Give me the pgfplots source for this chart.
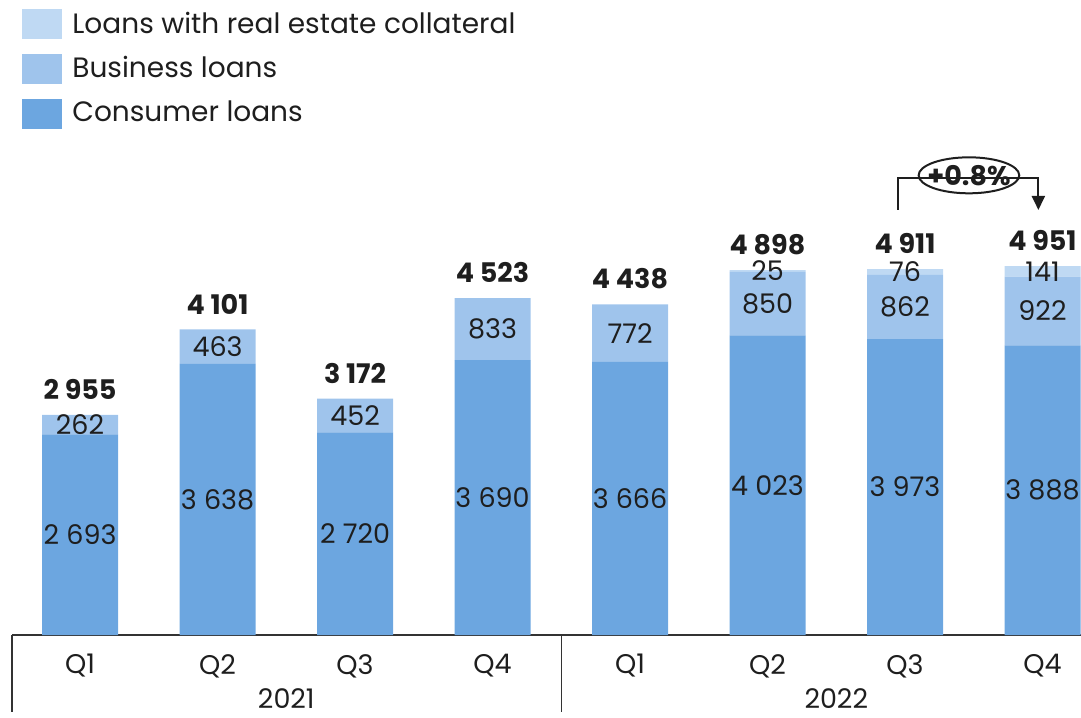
\documentclass[border=0pt]{standalone}
\usepackage{fontspec}
\setmainfont{Poppins}
\usepackage{pgfplots}
\pgfplotsset{compat=1.18}
\usetikzlibrary{shapes.geometric,arrows.meta}

\definecolor{consumer}{HTML}{6CA6E0}
\definecolor{business}{HTML}{9FC4EC}
\definecolor{realest}{HTML}{BFD9F3}
\definecolor{txt}{HTML}{1E1E1E}
\definecolor{axisc}{HTML}{333333}

\pgfplotsset{
  mid label/.style={
    nodes near coords={\pgfmathfloatifflags{\pgfplotspointmeta}{0}{}{\pgfmathprintnumber{\pgfplotspointmeta}}},
    every node near coord/.append style={anchor=center, text=txt, inner sep=0pt}
  },
  swatch/.style={legend image code/.code={\fill[##1] (0pt,-7.5pt) rectangle (20pt,7.5pt);}},
  frame/.style={
    scale only axis,
    width=534.5pt, height=317.5pt,
    xmin=-0.495, xmax=7.28,
    ymin=0, ymax=8523,
    bar width=38pt,
    clip=false,
    /pgf/number format/1000 sep={\ },
    /pgf/number format/assume math mode=true,
  },
}

\begin{document}
\fontsize{13.5}{16}\selectfont
\begin{tikzpicture}
\begin{axis}[
    frame,
    ybar stacked,
    axis y line=none,
    axis x line*=bottom,
    axis line style={-, line width=0.9pt, color=axisc},
    xtick={0,...,7},
    xticklabels={Q1,Q2,Q3,Q4,Q1,Q2,Q3,Q4},
    major tick length=0pt,
    xticklabel style={text=txt, yshift=-5pt},
    reverse legend,
    legend cell align=left,
    legend style={at={(0,1)}, anchor=north west, xshift=5pt, yshift=-4.5pt,
      draw=none, fill=none, inner sep=0pt, row sep=7.3pt, column sep=5pt,
      font=\fontsize{14}{16}\selectfont,
      nodes={inner sep=0pt, text=txt}},
]
% consumer loans
\addplot[fill=consumer, draw=none, mid label, swatch] coordinates {
  (0,2693) (1,3638) (2,2720) (3,3690) (4,3666) (5,4023) (6,3973) (7,3888)};
\addlegendentry{Consumer loans}
% business loans
\addplot[fill=business, draw=none, mid label, swatch] coordinates {
  (0,262) (1,463) (2,452) (3,833) (4,772) (5,850) (6,862) (7,922)};
\addlegendentry{Business loans}
% loans with real estate collateral
\addplot[fill=realest, draw=none, mid label, swatch] coordinates {
  (0,0) (1,0) (2,0) (3,0) (4,0) (5,25) (6,76) (7,141)};
\addlegendentry{Loans with real estate collateral}

% year grouping
\draw[line width=0.7pt, axisc] (axis cs:-0.495,0) -- ++(0pt,-38.5pt);
\draw[line width=0.7pt, axisc] (axis cs:3.5,0) -- ++(0pt,-38.5pt);
\node[text=txt] at ([yshift=-32pt]axis cs:1.5,0) {2021};
\node[text=txt] at ([yshift=-32pt]axis cs:5.5,0) {2022};

% change annotation
\draw[line width=1.1pt, txt, -{Triangle[length=7pt,width=6.5pt]}]
  (axis cs:5.95,5705) -- (axis cs:5.95,6134) -- (axis cs:6.97,6134) -- (axis cs:6.97,5705);
\node[ellipse, draw=txt, line width=1pt, fill=white, inner sep=-3pt,
  minimum height=18pt, font=\bfseries, text=txt]
  at (axis cs:6.465,6170) {+0.8\%};

\coordinate (bbsw) at (rel axis cs:0,0);
\coordinate (bbne) at (rel axis cs:1,1);
\end{axis}

% totals on top of the stacks
\begin{axis}[frame, ybar, hide axis]
\addplot[draw=none, fill=none, nodes near coords,
  every node near coord/.append style={anchor=south, font=\bfseries, text=txt, inner sep=0pt, yshift=7.5pt}]
  coordinates {(0,2955) (1,4101) (2,3172) (3,4523) (4,4438) (5,4898) (6,4911) (7,4951)};
\end{axis}

\pgfresetboundingbox
\path ([xshift=-6pt,yshift=-41pt]bbsw) rectangle (bbne);
\end{tikzpicture}
\end{document}
